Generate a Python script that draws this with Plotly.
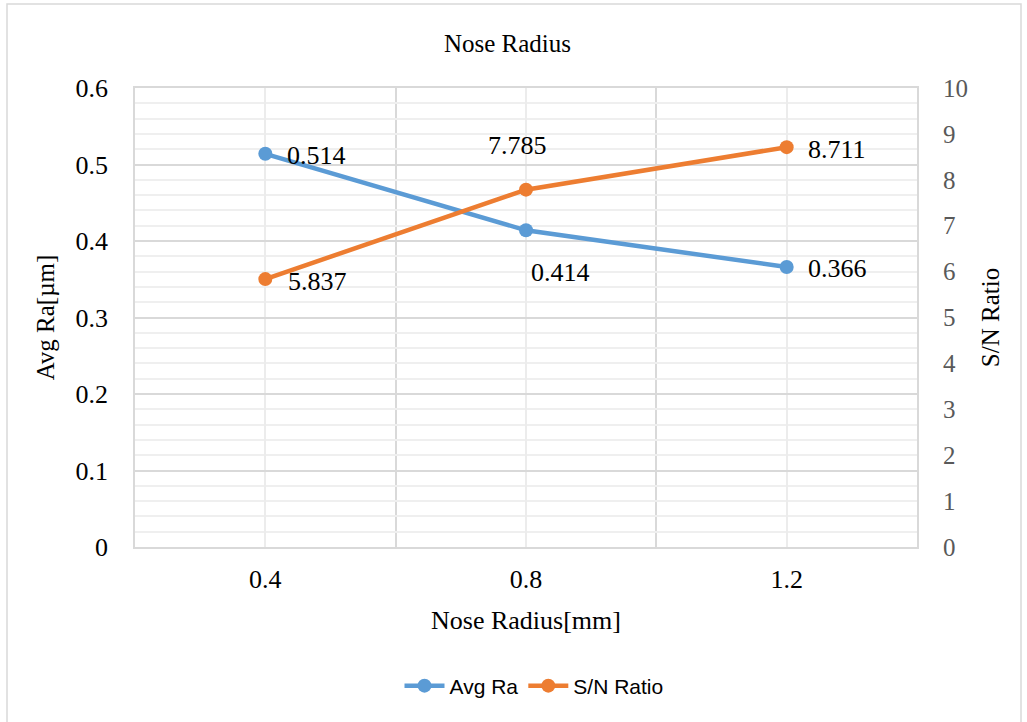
import plotly.graph_objects as go

# Nose radius levels and responses
nose_radius = ["0.4", "0.8", "1.2"]
avg_ra = [0.514, 0.414, 0.366]
sn_ratio = [5.837, 7.785, 8.711]

left_ticks = [0, 0.1, 0.2, 0.3, 0.4, 0.5, 0.6]
right_ticks = [0, 1, 2, 3, 4, 5, 6, 7, 8, 9, 10]

BLUE = "#5B9BD5"
ORANGE = "#ED7D31"
SERIF = "Liberation Serif"
SANS = "Liberation Sans"

W, H = 1027, 722
L, R, T, B = 135, 110, 88, 175

xpos = list(range(len(nose_radius)))

fig = go.Figure()
fig.add_trace(go.Scatter(
    x=xpos, y=avg_ra, name="Avg Ra", mode="lines+markers",
    line=dict(color=BLUE, width=4.5), marker=dict(size=14, color=BLUE),
    yaxis="y",
))
fig.add_trace(go.Scatter(
    x=xpos, y=sn_ratio, name="S/N Ratio", mode="lines+markers",
    line=dict(color=ORANGE, width=4.5), marker=dict(size=14, color=ORANGE),
    yaxis="y2",
))

# data labels (anchor, xshift, yshift) per point
ra_label_style = [("left", 20, -2), ("center", 34, -42), ("left", 19, -1)]
sn_label_style = [("left", 21, -2), ("center", -9, 44), ("left", 19, -2)]

label_font = dict(family=SERIF, size=26, color="black")
annotations = []
for i, v in enumerate(avg_ra):
    anc, dx, dy = ra_label_style[i]
    annotations.append(dict(
        x=xpos[i], y=v, xref="x", yref="y", text=f"{v:.3f}", showarrow=False,
        xanchor=anc, yanchor="middle", xshift=dx, yshift=dy, font=label_font,
    ))
for i, v in enumerate(sn_ratio):
    anc, dx, dy = sn_label_style[i]
    annotations.append(dict(
        x=xpos[i], y=v, xref="x", yref="y2", text=f"{v:.3f}", showarrow=False,
        xanchor=anc, yanchor="middle", xshift=dx, yshift=dy, font=label_font,
    ))

pw = W - L - R
ph = H - T - B

def px_x(p):
    return (p - L) / pw

def px_y(p):
    return (H - B - p) / ph

fig.update_layout(
    width=W, height=H,
    margin=dict(l=L, r=R, t=T, b=B, pad=0),
    paper_bgcolor="white", plot_bgcolor="white",
    font=dict(family=SERIF, color="black"),
    showlegend=True,
    title=dict(
        text="Nose Radius", x=(440 + 575) / 2 / W, xanchor="center",
        y=1 - 43 / H, yanchor="middle",
        font=dict(family=SERIF, size=25, color="black"),
    ),
    xaxis=dict(
        range=[-0.5, 2.5], tickmode="array", tickvals=xpos, ticktext=nose_radius,
        showgrid=True, gridcolor="#ececec", gridwidth=1.5,
        minor=dict(tickvals=[0.5, 1.5], showgrid=True, gridcolor="#d9d9d9", gridwidth=1.5),
        zeroline=False, showline=True, linecolor="#d9d9d9", linewidth=1.5, mirror=True,
        ticks="outside", ticklen=8, tickcolor="rgba(0,0,0,0)",
        tickfont=dict(family=SERIF, size=26, color="black"),
        title=dict(text="Nose Radius[mm]", standoff=18,
                   font=dict(family=SERIF, size=26, color="black")),
    ),
    yaxis=dict(
        range=[0, 0.6], tickmode="array", tickvals=left_ticks,
        ticktext=[f"{t:g}" for t in left_ticks],
        showgrid=True, gridcolor="#d9d9d9", gridwidth=1.5,
        minor=dict(dtick=0.02, tick0=0, showgrid=True, gridcolor="#efefef", gridwidth=1.5),
        zeroline=False, showline=True, linecolor="#d9d9d9", linewidth=1.5, mirror=True,
        ticks="outside", ticklen=20, tickcolor="rgba(0,0,0,0)",
        tickfont=dict(family=SERIF, size=26, color="black"),
        title=dict(text="Avg Ra[µm]", standoff=14,
                   font=dict(family=SERIF, size=25, color="black")),
    ),
    yaxis2=dict(
        range=[0, 10], overlaying="y", side="right", tickmode="array",
        tickvals=right_ticks, showgrid=False, zeroline=False, showline=False,
        ticks="outside", ticklen=20, tickcolor="rgba(0,0,0,0)",
        tickfont=dict(family=SERIF, size=25, color="#595959"),
        title=dict(text="S/N Ratio", standoff=14,
                   font=dict(family=SERIF, size=25, color="black")),
    ),
    legend=dict(
        orientation="h", x=px_x(534), xanchor="center", y=px_y(686), yanchor="middle",
        font=dict(family=SANS, size=21, color="black"), itemwidth=40,
        bgcolor="rgba(0,0,0,0)",
    ),
    annotations=annotations,
    shapes=[dict(
        type="rect", xref="paper", yref="paper",
        x0=px_x(7), x1=px_x(1021), y0=px_y(760), y1=px_y(4),
        line=dict(color="#d9d9d9", width=1.5), fillcolor="rgba(0,0,0,0)", layer="below",
    )],
)

fig.write_html("out.html")
